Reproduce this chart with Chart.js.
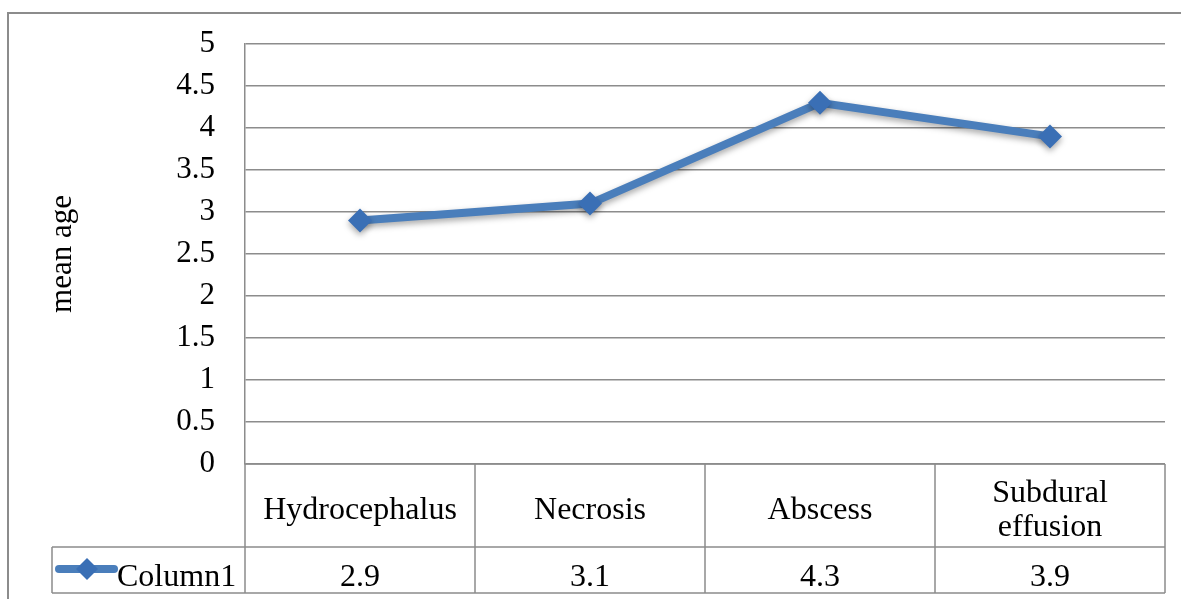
<!DOCTYPE html>
<html lang="en">
<head>
    <meta charset="UTF-8">
    <title>mean age</title>
    <style>
        * { margin: 0; padding: 0; box-sizing: border-box; }
        body { background: #fff; width: 1181px; height: 599px; overflow: hidden; }
        .wrap { position: relative; width: 1181px; height: 599px; }
    </style>
    <script src="https://cdn.jsdelivr.net/npm/chart.js"></script>
</head>
<body>
    <div class="wrap"><canvas id="chart" width="1181" height="599"></canvas></div>

    <script>
        // Data
        const categories = [['Hydrocephalus'], ['Necrosis'], ['Abscess'], ['Subdural', 'effusion']];
        const seriesName = 'Column1';
        const values = [2.9, 3.1, 4.3, 3.9];
        const yTicks = [0, 0.5, 1, 1.5, 2, 2.5, 3, 3.5, 4, 4.5, 5];
        const yTitle = 'mean age';

        const FONT = '"Liberation Serif", "Times New Roman", serif';
        const GRID = '#8c8c8c';
        const LINE = '#4a7ebb';

        // frame, axis title and data table under the plot
        const tablePlugin = {
            id: 'dataTable',
            afterDraw(chart) {
                const ctx = chart.ctx;
                const area = chart.chartArea;
                const x = chart.scales.x;
                const n = categories.length;
                const colW = (area.right - area.left) / n;
                const headBottom = 547;
                const rowBottom = 593;
                const legendLeft = 52;

                ctx.save();
                // outer frame
                ctx.strokeStyle = GRID;
                ctx.lineWidth = 2;
                ctx.beginPath();
                ctx.moveTo(8, 600);
                ctx.lineTo(8, 13);
                ctx.lineTo(1181, 13);
                ctx.stroke();

                ctx.lineWidth = 1.5;
                ctx.beginPath();
                for (let i = 0; i <= n; i++) {
                    const bx = area.left + i * colW;
                    ctx.moveTo(bx, area.bottom);
                    ctx.lineTo(bx, rowBottom);
                }
                ctx.moveTo(legendLeft, headBottom);
                ctx.lineTo(area.right, headBottom);
                ctx.moveTo(legendLeft, rowBottom);
                ctx.lineTo(area.right, rowBottom);
                ctx.moveTo(legendLeft, headBottom);
                ctx.lineTo(legendLeft, rowBottom);
                ctx.moveTo(area.left, area.bottom);
                ctx.lineTo(area.right, area.bottom);
                ctx.stroke();

                // y axis title
                ctx.fillStyle = '#000';
                ctx.font = '31px ' + FONT;
                ctx.textAlign = 'center';
                ctx.textBaseline = 'middle';
                ctx.save();
                ctx.translate(63, (area.top + area.bottom) / 2);
                ctx.rotate(-Math.PI / 2);
                ctx.fillText(yTitle, 0, 0);
                ctx.restore();

                // header and value text
                ctx.font = '32px ' + FONT;
                categories.forEach((lines, i) => {
                    const cx = x.getPixelForValue(i);
                    const midY = (area.bottom + headBottom) / 2 + 5;
                    const lh = 34;
                    lines.forEach((t, j) => {
                        ctx.fillText(t, cx, midY + (j - (lines.length - 1) / 2) * lh);
                    });
                    ctx.fillText(String(values[i]), cx, (headBottom + rowBottom) / 2 + 8);
                });

                // legend key
                const ly = (headBottom + rowBottom) / 2;
                ctx.strokeStyle = LINE;
                ctx.lineWidth = 8;
                ctx.lineCap = 'round';
                ctx.beginPath();
                ctx.moveTo(59, ly - 1);
                ctx.lineTo(114, ly - 1);
                ctx.stroke();
                ctx.fillStyle = '#3a6fb5';
                ctx.beginPath();
                ctx.moveTo(87, ly - 12);
                ctx.lineTo(98, ly - 1);
                ctx.lineTo(87, ly + 10);
                ctx.lineTo(76, ly - 1);
                ctx.closePath();
                ctx.fill();
                ctx.fillStyle = '#000';
                ctx.textAlign = 'left';
                ctx.fillText(seriesName, 117, ly + 8);
                ctx.restore();
            }
        };

        const shadowPlugin = {
            id: 'shadow',
            beforeDatasetsDraw(chart) {
                chart.ctx.save();
                chart.ctx.shadowColor = 'rgba(0,0,0,0.35)';
                chart.ctx.shadowBlur = 6;
                chart.ctx.shadowOffsetY = 3;
            },
            afterDatasetsDraw(chart) {
                chart.ctx.restore();
            }
        };

        new Chart(document.getElementById('chart'), {
            type: 'line',
            data: {
                labels: categories.map(c => c.join(' ')),
                datasets: [{
                    label: seriesName,
                    data: values,
                    borderColor: LINE,
                    borderWidth: 8,
                    backgroundColor: '#3a6fb5',
                    pointStyle: 'rectRot',
                    pointRadius: 12,
                    pointBorderWidth: 0,
                    pointBackgroundColor: '#3a6fb5',
                    tension: 0
                }]
            },
            options: {
                responsive: false,
                animation: false,
                layout: { padding: { top: 44, right: 16, bottom: 135, left: 0 } },
                plugins: {
                    legend: { display: false },
                    tooltip: { enabled: false }
                },
                scales: {
                    x: {
                        display: false,
                        offset: true
                    },
                    y: {
                        min: 0,
                        max: 5,
                        afterBuildTicks(scale) {
                            scale.ticks = yTicks.map(v => ({ value: v }));
                        },
                        afterFit(scale) {
                            scale.width = 245;
                            scale.paddingTop = 0;
                            scale.paddingBottom = 0;
                        },
                        border: { display: true, color: GRID, width: 1.5 },
                        grid: { color: GRID, lineWidth: 1.5, drawTicks: false },
                        ticks: {
                            color: '#000',
                            padding: 30,
                            font: { family: FONT, size: 31 },
                            callback: v => String(v)
                        }
                    }
                }
            },
            plugins: [shadowPlugin, tablePlugin]
        });
    </script>
</body>
</html>
